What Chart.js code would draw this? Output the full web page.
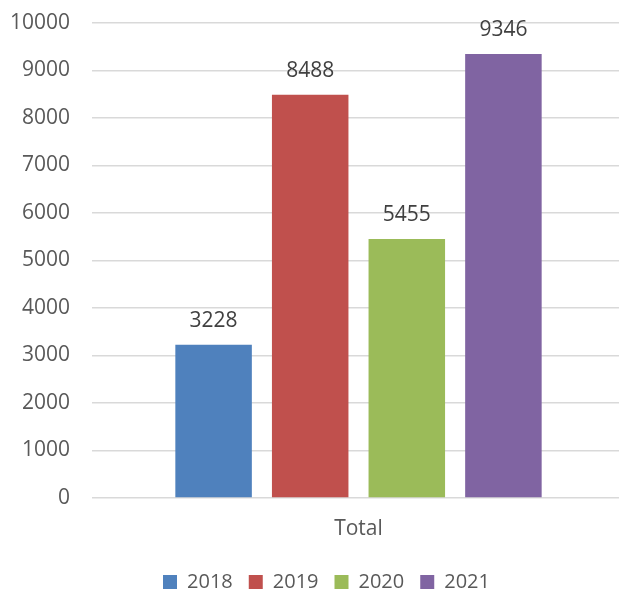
<!DOCTYPE html>
<html>
<head>
<meta charset="utf-8">
<script src="https://cdn.jsdelivr.net/npm/chart.js@4.4.1/dist/chart.umd.min.js"></script>
<style>
  html, body { margin: 0; padding: 0; overflow: hidden; background: #fff; }
  #contenedor { width: 625px; height: 590px; }
</style>
</head>
<body>
<div id="contenedor"><canvas id="totalAnual"></canvas></div>
<script>
const categorias = ['Total'];
const anios = ['2018', '2019', '2020', '2021'];
const valores = [3228, 8488, 5455, 9346];
const colores = ['#4f81bd', '#c0504d', '#9bbb59', '#8064a2'];
const ejeY = { min: 0, max: 10000, paso: 1000 };

const fuente = "'Open Sans', sans-serif";

// Plugin para escribir el valor encima de cada barra
const etiquetasValor = {
    id: 'etiquetasValor',
    afterDatasetsDraw(chart) {
        const ctx = chart.ctx;
        ctx.save();
        ctx.font = `21px ${fuente}`;
        ctx.fillStyle = '#404040';
        ctx.textAlign = 'center';
        ctx.textBaseline = 'alphabetic';
        chart.data.datasets.forEach((ds, i) => {
            chart.getDatasetMeta(i).data.forEach((barra, j) => {
                ctx.fillText(ds.data[j], barra.x, barra.y - 18);
            });
        });
        ctx.restore();
    }
};

// Plugin para colocar la leyenda un poco a la derecha y abajo
const moverLeyenda = {
    id: 'moverLeyenda',
    afterLayout(chart) {
        const leyenda = chart.legend;
        leyenda.left += 14;
        leyenda.right += 14;
        leyenda.top += 12;
        leyenda.bottom += 12;
    }
};

new Chart(document.getElementById('totalAnual'), {
    type: 'bar',
    data: {
        labels: categorias,
        datasets: anios.map((anio, i) => ({
            label: anio,
            data: [valores[i]],
            backgroundColor: colores[i],
            borderWidth: 0,
            categoryPercentage: 0.725,
            barPercentage: 0.792
        }))
    },
    options: {
        responsive: true,
        maintainAspectRatio: false,
        devicePixelRatio: 1,
        animation: false,
        events: [],
        layout: { padding: { top: 23, left: 0, right: 0, bottom: 0 } },
        scales: {
            x: {
                grid: { display: false },
                border: { display: false },
                ticks: { color: '#595959', font: { family: fuente, size: 21 }, padding: 10 },
                afterFit: (scale) => { scale.height = 46; }
            },
            y: {
                min: ejeY.min,
                max: ejeY.max,
                // marcas invisibles para separar los números de la rejilla
                grid: { color: '#d9d9d9', lineWidth: 1.5, drawTicks: true, tickLength: 22, tickColor: 'rgba(0,0,0,0)' },
                border: { display: false },
                ticks: {
                    stepSize: ejeY.paso,
                    color: '#595959',
                    font: { family: fuente, size: 21 },
                    padding: 0,
                    callback: (valor) => valor
                },
                afterFit: (scale) => { scale.width = 92; }
            }
        },
        plugins: {
            legend: {
                position: 'bottom',
                labels: {
                    color: '#595959',
                    font: { family: fuente, size: 20 },
                    boxWidth: 14,
                    boxHeight: 14,
                    padding: 16
                }
            },
            tooltip: { enabled: false }
        }
    },
    plugins: [etiquetasValor, moverLeyenda]
});
</script>
</body>
</html>
